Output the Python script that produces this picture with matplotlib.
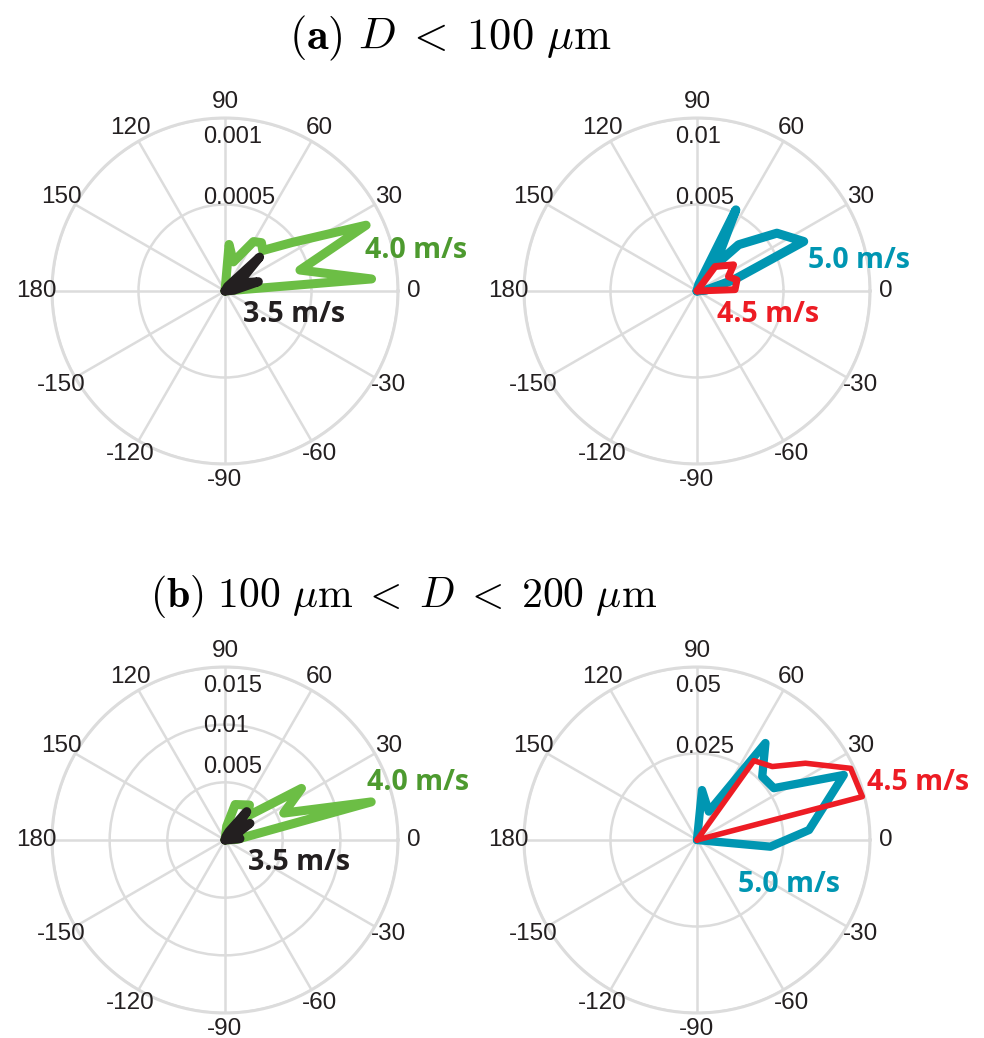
import numpy as np
import matplotlib
matplotlib.use("Agg")
import matplotlib.pyplot as plt

plt.rcParams['mathtext.fontset'] = 'cm'
plt.rcParams['font.family'] = ['Liberation Sans', 'DejaVu Sans']

W, H = 984, 1038

# angle labels around every dial
theta_ticks = [0, 30, 60, 90, 120, 150, 180, -150, -120, -90, -60, -30]

# (a) D < 100 um, left: 3.5 and 4.0 m/s
a_left_rmax = 0.001
a_left_rings = [0.0005, 0.001]
a_left_ring_labels = ['0.0005', '0.001']
green_a_ang = [4.7, 15.6, 25, 35.8, 47, 53, 60, 74, 85]
green_a_r = [0.00085, 0.00045, 0.0009, 0.00048, 0.00032, 0.00035, 0.00033, 0.000175, 0.00027]
black_a_ang = [5, 15.6, 30, 44.4, 60]
black_a_r = [0.00005, 0.0002, 0.00009, 0.00028, 0.00003]

# (a) right: 4.5 and 5.0 m/s
a_right_rmax = 0.01
a_right_rings = [0.005, 0.01]
a_right_ring_labels = ['0.005', '0.01']
blue_a_ang = [5, 16.8, 24.9, 35.9, 48, 55, 64.4, 75]
blue_a_r = [0.0005, 0.0022, 0.0068, 0.0057, 0.0036, 0.0018, 0.0052, 0.0004]
red_a_ang = [2, 15.5, 24.6, 35.6, 53.5]
red_a_r = [0.0022, 0.0024, 0.002, 0.0026, 0.00176]

# (b) 100 < D < 200 um, left
b_left_rmax = 0.015
b_left_rings = [0.005, 0.01, 0.015]
b_left_ring_labels = ['0.005', '0.01', '0.015']
green_b_ang = [3, 14.6, 24.6, 34, 47, 55, 74, 83]
green_b_r = [0.001, 0.0131, 0.0056, 0.008, 0.0028, 0.0037, 0.0032, 0.0012]
black_b_ang = [5, 15, 25, 33.7, 45, 52.5, 65, 75]
black_b_r = [0.0013, 0.0012, 0.0009, 0.0026, 0.0012, 0.0031, 0.0008, 0.0003]

# (b) right
b_right_rmax = 0.05
b_right_rings = [0.025, 0.05]
b_right_ring_labels = ['0.025', '0.05']
red_b_ang = [14.7, 25, 35.3, 44.3, 54.4]
red_b_r = [0.0494, 0.049, 0.0384, 0.0304, 0.0282]
blue_b_ang = [-5.2, 5.1, 23.9, 34, 44.2, 54.8, 67.5, 84.3]
blue_b_r = [0.0213, 0.0325, 0.0464, 0.0268, 0.0263, 0.0343, 0.0089, 0.0145]

GREEN = '#6cbe45'
GREEN_TXT = '#4d9a2f'
BLACK = '#231f20'
BLUE = '#0096b2'
RED = '#ed1c24'
GRID = '#dcdcdc'


def polar_axes(fig, cx, cy, R):
    rect = [(cx - R) / W, 1 - (cy + R) / H, 2 * R / W, 2 * R / H]
    return fig.add_axes(rect, projection='polar')


def dial(ax, rmax, rings, ring_labels):
    ax.set_xticks(np.radians(np.mod(theta_ticks, 360)))
    ax.set_xticklabels([])
    ax.set_thetalim(0, 2 * np.pi)
    ax.set_ylim(0, rmax)
    ax.set_yticks(rings)
    ax.set_yticklabels([])
    ax.grid(True, color=GRID, lw=1.8)
    ax.spines['polar'].set_color(GRID)
    ax.spines['polar'].set_linewidth(2.2)
    for a in theta_ticks:
        ax.text(np.radians(a), 1.09 * rmax, str(a), ha='center', va='center',
                fontsize=17.5, color=BLACK, clip_on=False)
    for val, lab in zip(rings, ring_labels):
        frac = val / rmax
        ax.text(0.437, 0.5 + (0.7 * frac + 0.19) / 2, lab, transform=ax.transAxes,
                ha='left', va='center', fontsize=17, color=BLACK)


def trace(ax, ang, r, color, lw):
    th = np.radians([ang[0]] + ang + [ang[-1]])
    rr = [0] + r + [0]
    ax.plot(th, rr, color=color, lw=lw, solid_joinstyle='round',
            solid_capstyle='round', clip_on=False, zorder=3)


def speed(fig, x, y, s, color):
    fig.text(x / W, 1 - y / H, s, ha='left', va='center', fontsize=20.5,
             fontweight='bold', color=color, family=['Open Sans', 'DejaVu Sans'])


fig = plt.figure(figsize=(W / 100, H / 100), dpi=100)

R = 173
ax1 = polar_axes(fig, 225, 291, R)
dial(ax1, a_left_rmax, a_left_rings, a_left_ring_labels)
trace(ax1, green_a_ang, green_a_r, GREEN, 6.5)
trace(ax1, black_a_ang, black_a_r, BLACK, 6.5)

ax2 = polar_axes(fig, 697, 291, R)
dial(ax2, a_right_rmax, a_right_rings, a_right_ring_labels)
trace(ax2, blue_a_ang, blue_a_r, BLUE, 6.5)
trace(ax2, red_a_ang, red_a_r, RED, 5)

ax3 = polar_axes(fig, 225, 840, R)
dial(ax3, b_left_rmax, b_left_rings, b_left_ring_labels)
trace(ax3, green_b_ang, green_b_r, GREEN, 6.5)
trace(ax3, black_b_ang, black_b_r, BLACK, 6.5)

ax4 = polar_axes(fig, 697, 840, R)
dial(ax4, b_right_rmax, b_right_rings, b_right_ring_labels)
trace(ax4, blue_b_ang, blue_b_r, BLUE, 6)
trace(ax4, red_b_ang, red_b_r, RED, 4)

speed(fig, 365, 250, '4.0 m/s', GREEN_TXT)
speed(fig, 243, 315, '3.5 m/s', BLACK)
speed(fig, 808, 260, '5.0 m/s', BLUE)
speed(fig, 717, 315, '4.5 m/s', RED)
speed(fig, 367, 782, '4.0 m/s', GREEN_TXT)
speed(fig, 248, 863, '3.5 m/s', BLACK)
speed(fig, 867, 783, '4.5 m/s', RED)
speed(fig, 738, 885, '5.0 m/s', BLUE)

fig.text(450 / W, 1 - 38 / H, r'$(\mathbf{a})\ D\;<\;100\ \mu\mathrm{m}$',
         ha='center', va='center', fontsize=32)
fig.text(404 / W, 1 - 596 / H,
         r'$(\mathbf{b})\ 100\ \mu\mathrm{m}\;<\;D\;<\;200\ \mu\mathrm{m}$',
         ha='center', va='center', fontsize=30)

fig.savefig('out.png', dpi=100, facecolor='white')
